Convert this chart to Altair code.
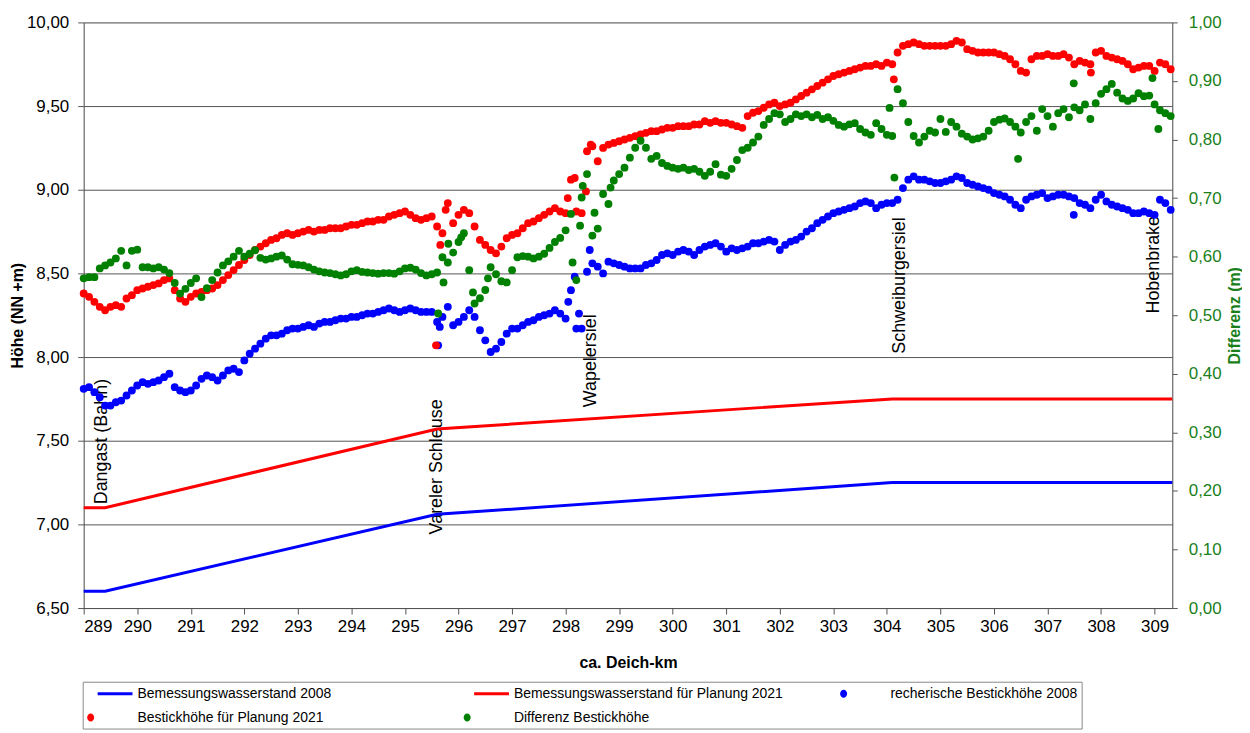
import altair as alt
import numpy as np
import pandas as pd

# ---------------- data ----------------
KM0, KM1 = 289.0, 309.33
KM_GRID = np.round(np.arange(289.0, 309.31, 0.1), 1)   # stations every 100 m

BLUE_H = [
    7.81, 7.82, 7.79, 7.76, 7.71, 7.71, 7.73, 7.74, 7.77, 7.80,
    7.83, 7.85, 7.84, 7.85, 7.86, 7.88, 7.90, 7.82, 7.80, 7.79,
    7.80, 7.83, 7.87, 7.89, 7.88, 7.86, 7.89, 7.92, 7.93, 7.91,
    7.98, 8.02, 8.05, 8.08, 8.11, 8.13, 8.13, 8.14, 8.16, 8.17,
    8.17, 8.18, 8.19, 8.18, 8.20, 8.21, 8.21, 8.22, 8.23, 8.23,
    8.24, 8.24, 8.25, 8.26, 8.26, 8.27, 8.28, 8.29, 8.28, 8.27,
    8.28, 8.29, 8.28, 8.27, 8.27, 8.27, 8.21, 8.24, 8.30, 8.19,
    8.21, 8.24, 8.28, 8.24, 8.16, 8.10, 8.03, 8.05, 8.09, 8.14,
    8.17, 8.17, 8.19, 8.21, 8.22, 8.24, 8.25, 8.26, 8.28, 8.26,
    8.23, 8.40, 8.17, 8.17, 8.51, 8.56, 8.54, 8.50, 8.57, 8.56,
    8.55, 8.54, 8.53, 8.53, 8.53, 8.55, 8.56, 8.58, 8.61, 8.62,
    8.61, 8.63, 8.64, 8.63, 8.61, 8.64, 8.66, 8.67, 8.68, 8.66,
    8.63, 8.65, 8.64, 8.65, 8.66, 8.68, 8.68, 8.69, 8.70, 8.69,
    8.64, 8.67, 8.69, 8.70, 8.72, 8.75, 8.77, 8.80, 8.82, 8.84,
    8.86, 8.87, 8.88, 8.89, 8.90, 8.92, 8.93, 8.92, 8.89, 8.91,
    8.92, 8.92, 8.94, 9.01, 9.06, 9.08, 9.06, 9.06, 9.05, 9.04,
    9.04, 9.05, 9.06, 9.08, 9.07, 9.04, 9.03, 9.02, 9.01, 9.00,
    8.98, 8.97, 8.96, 8.94, 8.91, 8.89, 8.94, 8.96, 8.97, 8.98,
    8.95, 8.96, 8.97, 8.97, 8.96, 8.95, 8.92, 8.91, 8.89, 8.94,
    8.97, 8.93, 8.91, 8.90, 8.89, 8.88, 8.86, 8.86, 8.87, 8.86,
    8.85, 8.94, 8.92, 8.88,
]
BLUE_X_KM = [295.62, 295.65, 298.05, 298.17, 298.45, 298.25, 307.49]
BLUE_X_H = [8.07, 8.18, 8.33, 8.48, 8.64, 8.26, 8.85]

RED_H = [
    8.38, 8.36, 8.33, 8.30, 8.28, 8.30, 8.31, 8.30, 8.35, 8.37,
    8.40, 8.41, 8.42, 8.43, 8.44, 8.46, 8.47, 8.40, 8.35, 8.33,
    8.36, 8.38, 8.39, 8.40, 8.41, 8.43, 8.46, 8.49, 8.52, 8.55,
    8.58, 8.61, 8.64, 8.66, 8.68, 8.70, 8.71, 8.73, 8.74, 8.73,
    8.74, 8.75, 8.76, 8.75, 8.76, 8.76, 8.77, 8.77, 8.77, 8.78,
    8.79, 8.79, 8.80, 8.81, 8.81, 8.82, 8.82, 8.84, 8.85, 8.86,
    8.87, 8.85, 8.83, 8.82, 8.83, 8.84, 8.78, 8.74, 8.92, 8.80,
    8.85, 8.88, 8.86, 8.78, 8.70, 8.67, 8.64, 8.62, 8.66, 8.71,
    8.73, 8.74, 8.77, 8.80, 8.81, 8.83, 8.85, 8.87, 8.89, 8.87,
    8.86, 9.06, 8.87, 8.86, 9.23, 9.26, 9.17, 9.25, 9.27, 9.28,
    9.29, 9.30, 9.31, 9.32, 9.33, 9.34, 9.35, 9.35, 9.36, 9.37,
    9.37, 9.38, 9.38, 9.38, 9.39, 9.39, 9.41, 9.40, 9.41, 9.40,
    9.40, 9.39, 9.38, 9.37, 9.44, 9.46, 9.47, 9.49, 9.51, 9.52,
    9.50, 9.51, 9.52, 9.54, 9.56, 9.58, 9.60, 9.62, 9.64, 9.66,
    9.68, 9.69, 9.70, 9.71, 9.72, 9.73, 9.74, 9.74, 9.75, 9.74,
    9.76, 9.75, 9.82, 9.86, 9.87, 9.88, 9.87, 9.86, 9.86, 9.86,
    9.86, 9.86, 9.87, 9.89, 9.88, 9.84, 9.83, 9.82, 9.82, 9.82,
    9.82, 9.81, 9.80, 9.78, 9.75, 9.71, 9.70, 9.78, 9.80, 9.80,
    9.81, 9.80, 9.80, 9.81, 9.79, 9.75, 9.77, 9.76, 9.75, 9.82,
    9.83, 9.80, 9.79, 9.78, 9.77, 9.75, 9.72, 9.73, 9.74, 9.74,
    9.71, 9.76, 9.75, 9.72,
]
RED_X_KM = [295.58, 295.66, 295.76, 298.04, 298.17, 298.38, 298.47, 304.13, 307.81]
RED_X_H = [8.07, 8.67, 8.88, 8.95, 9.07, 8.99, 9.27, 9.66, 9.70]

DIFF = [
    .563, .565, .565, .580, .585, .590, .597, .610, .585, .610,
    .612, .582, .582, .580, .582, .578, .572, .555, .537, .545,
    .555, .563, .531, .546, .560, .573, .585, .592, .600, .610,
    .600, .605, .611, .598, .595, .597, .600, .602, .595, .587,
    .586, .585, .582, .578, .575, .573, .572, .570, .568, .570,
    .575, .577, .574, .573, .572, .571, .572, .572, .571, .575,
    .580, .581, .578, .572, .568, .570, .573, .599, .590, .607,
    .625, .640, .577, .520, .529, .543, .582, .570, .558, .556,
    .577, .599, .601, .600, .597, .600, .605, .615, .625, .632,
    .645, .673, .560, .701, .741, .636, .648, .707, .690, .730,
    .741, .752, .769, .786, .798, .786, .767, .772, .760, .755,
    .752, .750, .752, .748, .750, .745, .738, .745, .758, .740,
    .738, .750, .765, .782, .786, .795, .805, .825, .835, .845,
    .843, .830, .835, .843, .840, .843, .838, .842, .835, .838,
    .832, .825, .822, .826, .828, .818, .812, .808, .828, .818,
    .808, .806, .886, .862, .830, .806, .795, .805, .815, .812,
    .835, .813, .830, .822, .810, .805, .800, .802, .805, .815,
    .830, .834, .836, .830, .822, .812, .830, .840, .815, .852,
    .840, .822, .845, .852, .838, .855, .850, .860, .835, .862,
    .878, .886, .895, .880, .870, .866, .870, .879, .874, .875,
    .860, .850, .845, .840,
]
DIFF_X_KM = [295.62, 295.72, 295.81, 296.05, 296.27, 296.55, 298.13, 298.27, 298.32,
             298.54, 298.84, 304.05, 304.14, 306.45, 307.49, 308.96, 309.07]
DIFF_X = [.503, .556, .622, .633, .539, .563, .590, .653, .721,
          .675, .718, .854, .735, .767, .896, .905, .818]

LINE_KM = [289.0, 289.4, 295.6, 304.1, 309.33]
BW2008 = [6.60, 6.60, 7.06, 7.25, 7.25]
BW2021 = [7.10, 7.10, 7.57, 7.75, 7.75]

PLACES = ["Dangast (Bahn)", "Vareler Schleuse", "Wapelersiel", "Schweiburgersiel", "Hobenbrake"]
PLACE_KM = [289.35, 295.59, 298.47, 304.25, 308.99]
PLACE_H = [7.12, 6.94, 7.70, 8.02, 8.26]

SERIES = ["Bemessungswasserstand 2008", "Bemessungswasserstand für Planung 2021",
          "recherische Bestickhöhe 2008", "Bestickhöhe für Planung 2021",
          "Differenz Bestickhöhe"]
COLORS = ["#0000ff", "#ff0000", "#0000ff", "#ff0000", "#008000"]

# ---------------- tables ----------------
assert len(BLUE_H) == len(KM_GRID) == len(RED_H) == len(DIFF)
blue_df = pd.DataFrame({"km": list(KM_GRID) + BLUE_X_KM, "h": BLUE_H + BLUE_X_H})
red_df = pd.DataFrame({"km": list(KM_GRID) + RED_X_KM, "h": RED_H + RED_X_H})
diff_df = pd.DataFrame({"km": list(KM_GRID) + DIFF_X_KM, "d": DIFF + DIFF_X})
l08 = pd.DataFrame({"km": LINE_KM, "h": BW2008})
l21 = pd.DataFrame({"km": LINE_KM, "h": BW2021})
places_df = pd.DataFrame({"name": PLACES, "km": PLACE_KM, "h": PLACE_H})
legend_df = pd.DataFrame({"series": SERIES})

FONT = "Liberation Sans"
DOT = 62
xscale = alt.Scale(domain=[KM0, KM1], nice=False, zero=False)
yscale = alt.Scale(domain=[6.5, 10.0], nice=False, zero=False)
dscale = alt.Scale(domain=[0.0, 1.0], nice=False, zero=False)
comma = "replace(format(datum.value, '.2f'), '.', ',')"

xaxis = alt.Axis(values=list(range(289, 310)), format="d", title="ca. Deich-km",
                 grid=False, tickSize=6, labelPadding=5, labelFontSize=17,
                 titleFontSize=16, titleFontWeight="bold", titlePadding=20,
                 domainColor="#555", tickColor="#555", labelColor="#000",
                 titleColor="#000", labelFont=FONT, titleFont=FONT)
yaxis = alt.Axis(values=[6.5, 7.0, 7.5, 8.0, 8.5, 9.0, 9.5, 10.0], labelExpr=comma,
                 title="Höhe (NN +m)", grid=True, gridColor="#555", gridWidth=1,
                 tickSize=6, labelPadding=9, labelFontSize=17, titleFontSize=16,
                 titleFontWeight="bold", titlePadding=1, domainColor="#555",
                 tickColor="#555", labelColor="#000", titleColor="#000",
                 labelFont=FONT, titleFont=FONT)
daxis = alt.Axis(values=[round(i * 0.1, 1) for i in range(11)], labelExpr=comma,
                 title="Differenz (m)", orient="right", grid=False, tickSize=5,
                 labelPadding=11, labelFontSize=17, titleFontSize=16,
                 titleFontWeight="bold", titleAngle=270, titleBaseline="top",
                 titlePadding=5, domainColor="#555", tickColor="#555",
                 labelColor="#1a7f1a", titleColor="#1a7f1a",
                 labelFont=FONT, titleFont=FONT)

X = alt.X("km:Q", scale=xscale, axis=xaxis)
Y = alt.Y("h:Q", scale=yscale, axis=yaxis)

texts = alt.Chart(places_df).mark_text(angle=270, align="left", baseline="middle",
                                       fontSize=18, font=FONT, color="#000").encode(
    x=alt.X("km:Q", scale=xscale), y=alt.Y("h:Q", scale=yscale), text="name:N")
line08 = alt.Chart(l08).mark_line(color="#0000ff", strokeWidth=3).encode(x=X, y=Y)
line21 = alt.Chart(l21).mark_line(color="#ff0000", strokeWidth=3).encode(x=X, y=Y)
dots_b = alt.Chart(blue_df).mark_circle(color="#0000ff", size=DOT, opacity=1).encode(x=X, y=Y)
dots_r = alt.Chart(red_df).mark_circle(color="#ff0000", size=DOT, opacity=1).encode(x=X, y=Y)

# legend symbol shapes (unit = 8 px for symbolSize 256)
LINE_PATH = "M0.375,-0.19H4.75V0.19H0.375Z"
DOT_PATH = "M-0.94,0A0.44,0.5 0 1,1 -0.06,0A0.44,0.5 0 1,1 -0.94,0Z"
leg = alt.Legend(title=None, orient="none", legendX=-1, legendY=662, columns=3,
                 direction="horizontal", gridAlign="all", columnPadding=56,
                 rowPadding=9, symbolSize=256, symbolStrokeWidth=0,
                 labelFontSize=14, labelFont=FONT, labelColor="#000",
                 labelOffset=35, strokeColor="#888", padding=4, labelLimit=400)
legend_layer = alt.Chart(legend_df).mark_point(filled=True, opacity=1, size=256).encode(
    x=alt.value(-600), y=alt.value(-600),
    color=alt.Color("series:N", scale=alt.Scale(domain=SERIES, range=COLORS), legend=leg),
    shape=alt.Shape("series:N", scale=alt.Scale(domain=SERIES,
                    range=[LINE_PATH, LINE_PATH, DOT_PATH, DOT_PATH, DOT_PATH]), legend=leg),
)

left = alt.layer(texts, line08, line21, dots_b, dots_r, legend_layer)
right = alt.Chart(diff_df).mark_circle(color="#008000", size=DOT, opacity=1).encode(
    x=X, y=alt.Y("d:Q", scale=dscale, axis=daxis))

chart = alt.layer(left, right).resolve_scale(y="independent").properties(
    width=1093, height=588,
    autosize=alt.AutoSizeParams(type="none"),
    padding={"left": 76, "top": 13, "right": 70, "bottom": 125},
).configure_view(stroke=None).configure(font=FONT)

chart.save("out.html", embed_options={"renderer": "svg", "actions": False})
